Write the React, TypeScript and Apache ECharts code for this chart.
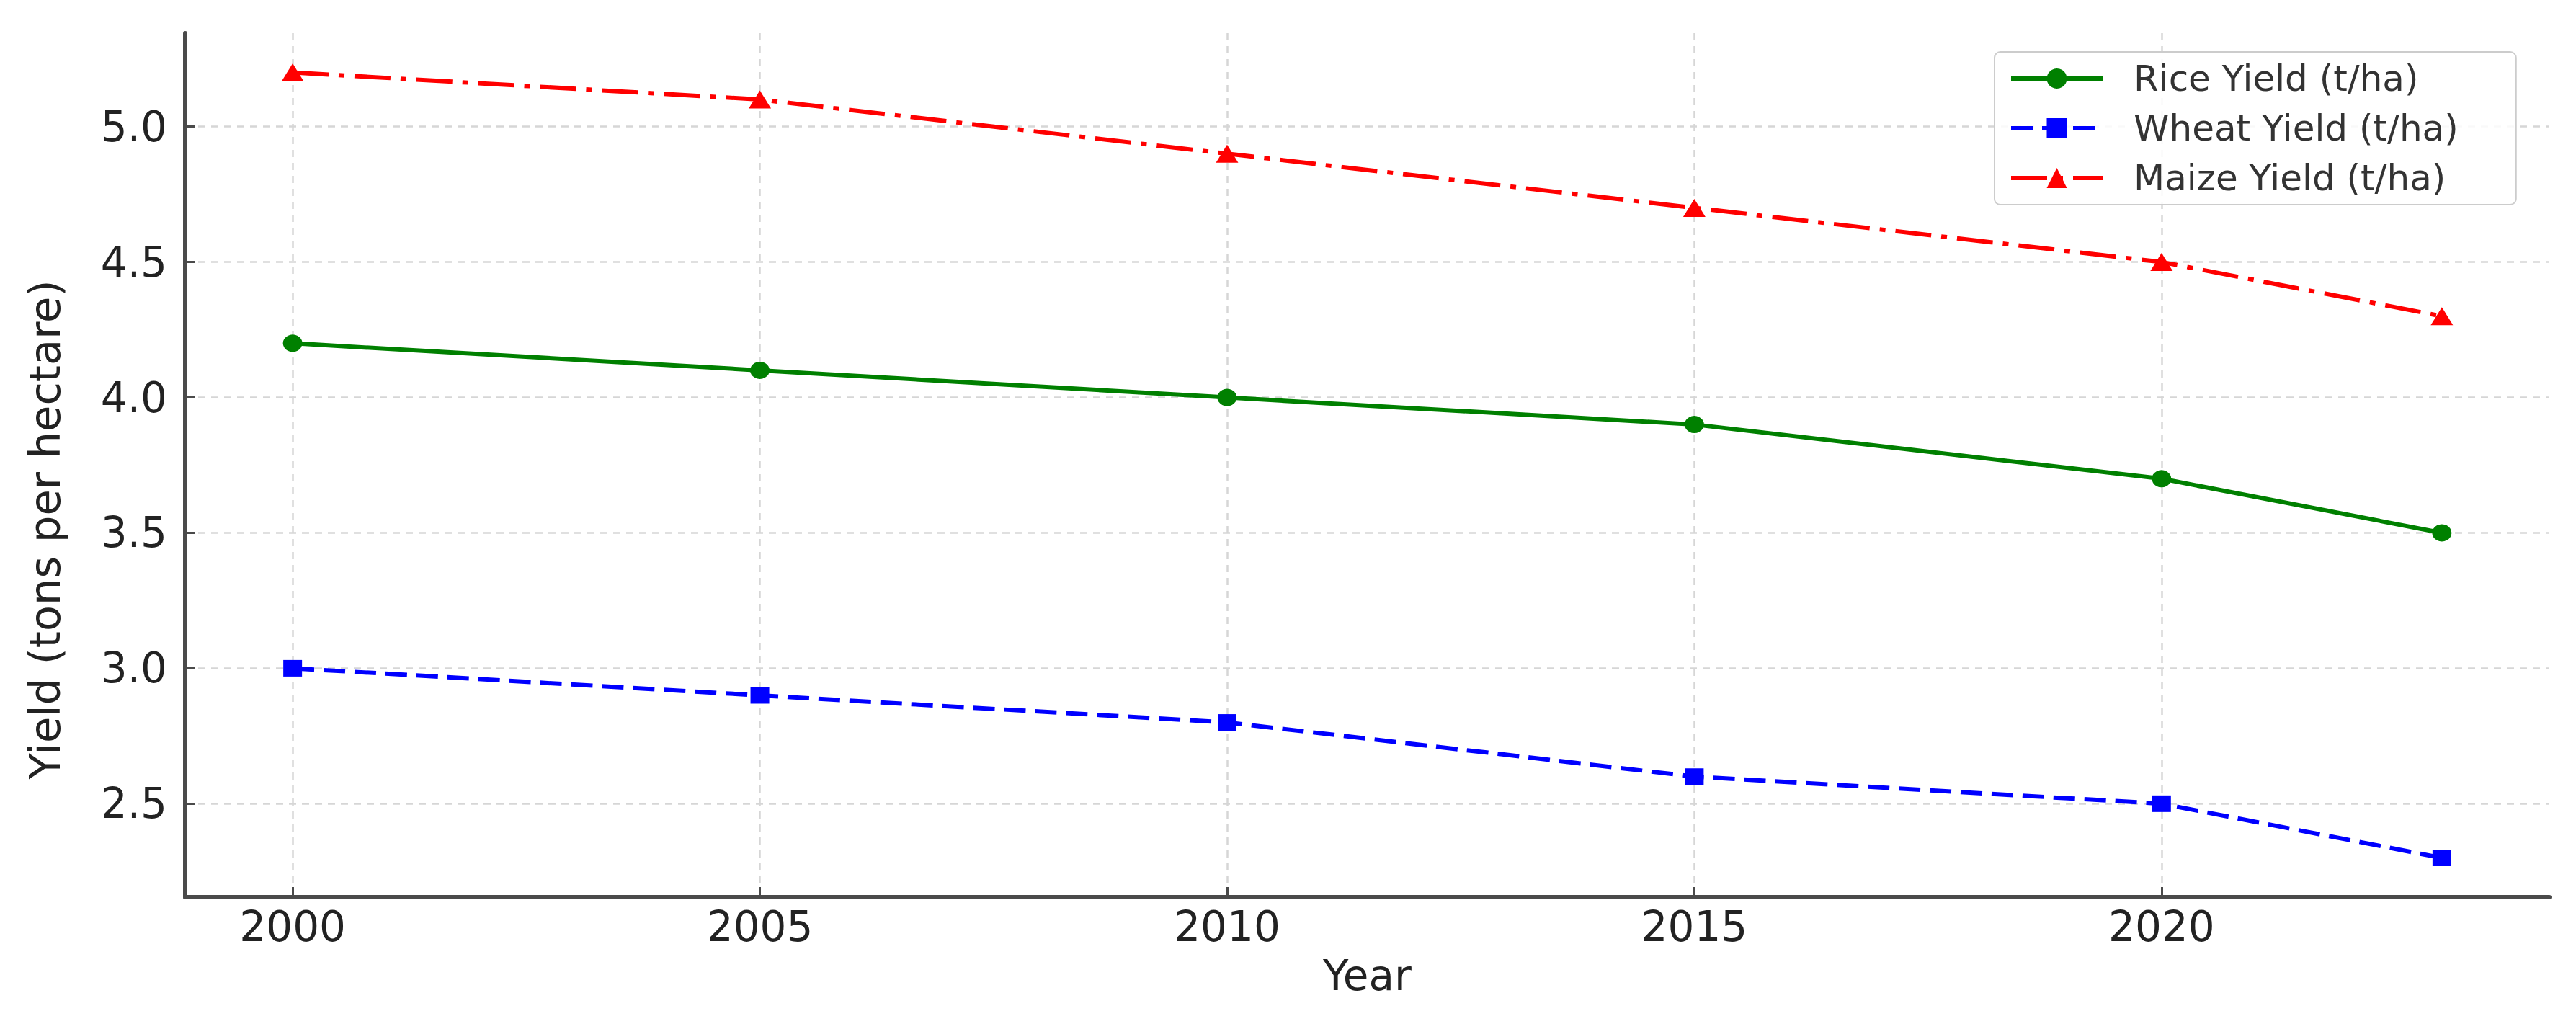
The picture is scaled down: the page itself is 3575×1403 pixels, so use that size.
import React, { useEffect, useRef } from "react";
import * as echarts from "echarts";

const years = [2000, 2005, 2010, 2015, 2020, 2023];
const riceYield = [4.2, 4.1, 4.0, 3.9, 3.7, 3.5];
const wheatYield = [3.0, 2.9, 2.8, 2.6, 2.5, 2.3];
const maizeYield = [5.2, 5.1, 4.9, 4.7, 4.5, 4.3];
const xTicks = [2000, 2005, 2010, 2015, 2020];
const yTicks = [2.5, 3.0, 3.5, 4.0, 4.5, 5.0];
const seriesNames = ["Rice Yield (t/ha)", "Wheat Yield (t/ha)", "Maize Yield (t/ha)"];
const xAxisTitle = "Year";
const yAxisTitle = "Yield (tons per hectare)";

const FONT = "DejaVu Sans";

export default function App() {
  const ref = useRef<HTMLDivElement>(null);
  useEffect(() => {
    if (!ref.current) return;
    const chart = echarts.init(ref.current, undefined, { renderer: "svg" });
    const allVals = [...riceYield, ...wheatYield, ...maizeYield];
    const yMinD = Math.min(...allVals);
    const yMaxD = Math.max(...allVals);
    const xMinD = Math.min(...years);
    const xMaxD = Math.max(...years);
    const xPad = (xMaxD - xMinD) * 0.05;
    const yPad = (yMaxD - yMinD) * 0.05;
    const pair = (vals: number[]) => years.map((y, i) => [y, vals[i]]);
    const axisColor = "#4a4a4a";
    const gridLine = { show: true, lineStyle: { color: "#d6d6d6", width: 2.5, type: [10, 8] as any } };
    chart.setOption({
      animation: false,
      backgroundColor: "#ffffff",
      grid: { left: 257, right: 37, top: 46, bottom: 158, containLabel: false },
      graphic: [
        {
          type: "text",
          x: 62,
          y: 735,
          rotation: Math.PI / 2,
          style: {
            text: yAxisTitle,
            fontSize: 59,
            fontFamily: FONT,
            fill: "#222222",
            align: "center",
            verticalAlign: "middle",
          },
        },
      ],
      legend: {
        orient: "vertical",
        left: 2768,
        top: 72,
        itemWidth: 127,
        itemHeight: 35,
        itemGap: 19,
        backgroundColor: "rgba(255,255,255,0.85)",
        borderColor: "#cccccc",
        borderWidth: 2,
        borderRadius: 8,
        padding: [12, 80, 12, 20],
        lineStyle: { width: 6 },
        textStyle: { fontSize: 50, color: "#333333", fontFamily: FONT, padding: [0, 0, 0, 38] },
        data: seriesNames,
      },
      xAxis: {
        type: "value",
        min: xMinD - xPad,
        max: xMaxD + xPad,
        name: xAxisTitle,
        nameLocation: "middle",
        nameGap: 80,
        nameTextStyle: { fontSize: 58, color: "#222222", fontFamily: FONT },
        axisLine: { show: true, lineStyle: { color: axisColor, width: 6 } },
        axisTick: { show: true, inside: true, length: 14, lineStyle: { color: axisColor, width: 3 }, customValues: xTicks },
        axisLabel: { customValues: xTicks, margin: 12, fontSize: 58, color: "#222222", fontFamily: FONT, formatter: (v: number) => String(v) },
        splitLine: gridLine,
      },
      yAxis: {
        type: "value",
        min: yMinD - yPad,
        max: yMaxD + yPad,
        axisLine: { show: true, lineStyle: { color: axisColor, width: 6 } },
        axisTick: { show: true, inside: true, length: 14, lineStyle: { color: axisColor, width: 3 }, customValues: yTicks },
        axisLabel: { customValues: yTicks, margin: 25, fontSize: 58, color: "#222222", fontFamily: FONT, formatter: (v: number) => v.toFixed(1) },
        splitLine: gridLine,
      },
      series: [
        {
          name: seriesNames[0],
          type: "line",
          data: pair(riceYield),
          symbol: "circle",
          symbolSize: [27, 24],
          itemStyle: { color: "#008000" },
          lineStyle: { color: "#008000", width: 6, type: "solid" },
        },
        {
          name: seriesNames[1],
          type: "line",
          data: pair(wheatYield),
          symbol: "rect",
          symbolSize: [26, 23],
          itemStyle: { color: "#0000ff" },
          lineStyle: { color: "#0000ff", width: 6, type: [30, 13] },
        },
        {
          name: seriesNames[2],
          type: "line",
          data: pair(maizeYield),
          symbol: "triangle",
          symbolSize: [31, 25],
          itemStyle: { color: "#ff0000" },
          lineStyle: { color: "#ff0000", width: 6, type: [50, 14, 8, 14] },
        },
      ],
    });
    return () => chart.dispose();
  }, []);
  return (
    <div
      ref={ref}
      style={{ position: "fixed", left: 0, top: 0, width: 3575, height: 1403, background: "#fff" }}
    />
  );
}
